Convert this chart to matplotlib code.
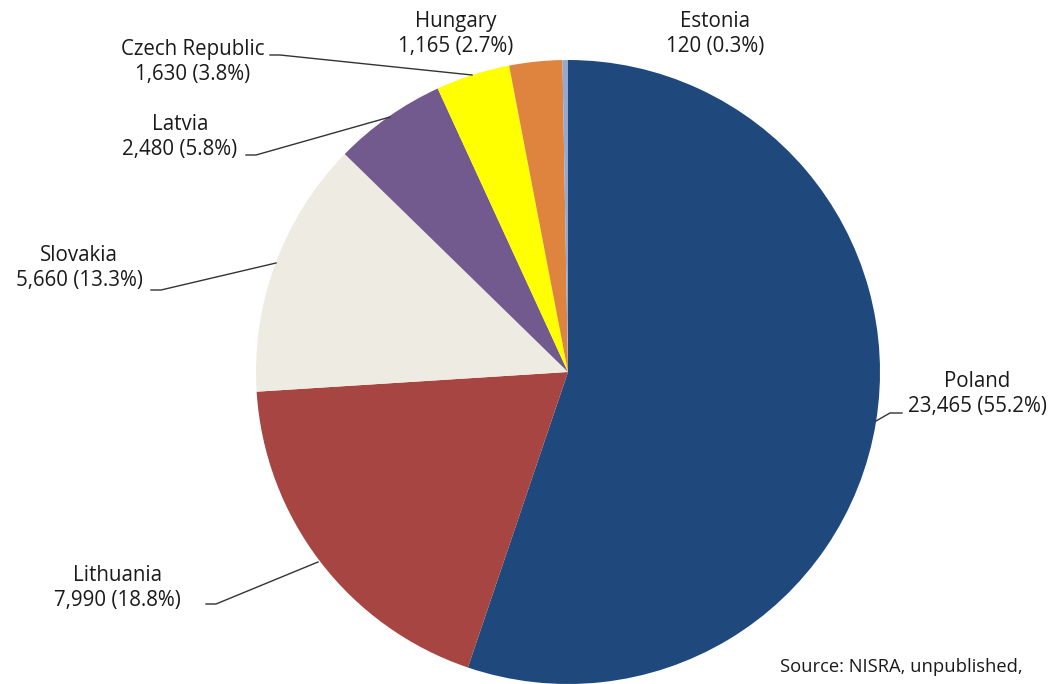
import matplotlib
matplotlib.use("Agg")
import matplotlib.pyplot as plt

# data
countries = ["Poland", "Lithuania", "Slovakia", "Latvia", "Czech Republic", "Hungary", "Estonia"]
values = [23465, 7990, 5660, 2480, 1630, 1165, 120]
colors = ["#1F497D", "#A64541", "#EEECE2", "#725A8E", "#FFFF00", "#DE843E", "#93A9D2"]

W, H = 1052, 684
CX, CY, R = 568, 372, 312

plt.rcParams["font.family"] = ["Open Sans", "DejaVu Sans"]

fig = plt.figure(figsize=(W / 100, H / 100), dpi=100)
ax = fig.add_axes([(CX - R) / W, (H - CY - R) / H, 2 * R / W, 2 * R / H])
ax.pie(values, colors=colors, startangle=90, counterclock=False, radius=1,
       wedgeprops=dict(linewidth=0))
ax.set_xlim(-1, 1)
ax.set_ylim(-1, 1)
ax.set_aspect("equal")
ax.axis("off")


def px(x, y):
    return ((x - CX) / R, (CY - y) / R)


total = sum(values)
labels = {c: f"{c}\n{v:,} ({100 * v / total:.1f}%)" for c, v in zip(countries, values)}

# label centre (px), leader line points (px) or None
layout = {
    "Poland": ((977, 394), [(902, 413), (890, 413), (876, 421)]),
    "Lithuania": ((117, 588), [(206, 604), (216, 604), (318, 562)]),
    "Slovakia": ((79, 268), [(151, 290), (161, 290), (276, 263)]),
    "Latvia": ((180, 137), [(246, 155), (256, 155), (390, 117)]),
    "Czech Republic": ((193, 62), [(270, 55), (280, 55), (472, 75)]),
    "Hungary": ((456, 34), None),
    "Estonia": ((715, 34), None),
}

for c in countries:
    (tx, ty), line = layout[c]
    ax.text(*px(tx, ty), labels[c], ha="center", va="center", fontsize=14.8,
            color="#1a1a1a", linespacing=1.3, clip_on=False)
    if line:
        xs, ys = zip(*[px(x, y) for x, y in line])
        ax.plot(xs, ys, color="#333333", lw=1.0, clip_on=False)

fig.text(780 / W, 1 - 667 / H, "Source: NISRA, unpublished,", ha="left", va="center",
         fontsize=13.2, color="#1a1a1a")

fig.savefig("out.png", dpi=100)
